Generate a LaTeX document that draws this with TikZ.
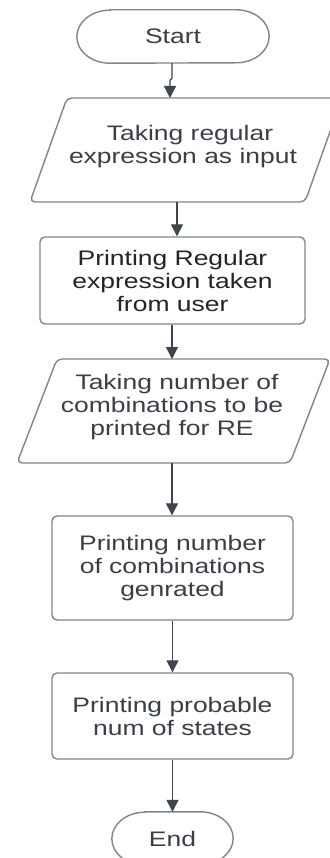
\documentclass[tikz,border=0pt]{standalone}
\usepackage{fontspec}
\setmainfont{Liberation Sans}[FakeStretch=1.26]
\usetikzlibrary{arrows.meta,calc}
\definecolor{txt}{HTML}{3A3F47}
\definecolor{txtdark}{HTML}{222428}
\definecolor{edgec}{HTML}{80858C}
\definecolor{arrc}{HTML}{3F454D}
\begin{document}
\begin{tikzpicture}[x=1pt,y=-1pt,
  lab/.style={text=txt,font=\fontsize{21}{23}\selectfont,align=center,inner sep=0pt},
  edgeline/.style={draw=edgec,line width=1.4pt},
  procbox/.style={lab,edgeline,rounded corners=5pt},
  arr/.style={draw=arrc,line width=1.3pt,-{Triangle[width=12pt,length=12pt]}}]
\fill[white] (0,0) rectangle (329,858);
\useasboundingbox (0,0) rectangle (329,858);

% Start terminator
\node[lab,minimum width=192pt,minimum height=53pt] (start) at (173,36.5) {Start};
\draw[edgeline] ([xshift=33pt]start.north west) -- ([xshift=-33pt]start.north east)
  arc[start angle=90,end angle=-90,x radius=33pt,y radius=26.5pt]
  -- ([xshift=33pt]start.south west)
  arc[start angle=270,end angle=90,x radius=33pt,y radius=26.5pt] -- cycle;

% Input 1
\node[lab] (p1) at (183,147) {\hspace*{14pt}Taking regular\\expression as input};
\draw[edgeline,rounded corners=5pt] ($(p1)+(-153,55)$) -- ($(p1)+(122,55)$)
  -- ($(p1)+(159,-49)$) -- ($(p1)+(-116,-49)$) -- cycle;

% Process 2
\node[procbox,text=txtdark,minimum width=265pt,minimum height=87pt] (b2) at (172.5,280.5)
  {Printing Regular\\expression taken\\from user};

% Input 2
\node[lab] (p2) at (172,407.5) {\hspace*{10pt}Taking number of\\combinations to be\\printed for RE};
\draw[edgeline,rounded corners=5pt] ($(p2)+(-155,55.5)$) -- ($(p2)+(118,55.5)$)
  -- ($(p2)+(158,-48.5)$) -- ($(p2)+(-115,-48.5)$) -- cycle;

% Process 4
\node[procbox,minimum width=241pt,minimum height=104pt] (b4) at (172.5,568)
  {Printing number\\of combinations\\genrated};

% Process 5
\node[procbox,minimum width=241pt,minimum height=86pt] (b5) at (172.5,716)
  {Printing probable\\num of states};

% End terminator
\node[lab,minimum width=121pt,minimum height=53pt] (end) at (172.5,838.5) {End};
\draw[edgeline] ([xshift=33pt]end.north west) -- ([xshift=-33pt]end.north east)
  arc[start angle=90,end angle=-90,x radius=33pt,y radius=26.5pt]
  -- ([xshift=33pt]end.south west)
  arc[start angle=270,end angle=90,x radius=33pt,y radius=26.5pt] -- cycle;

% Connectors
\draw[arr] ([xshift=-1pt]start.south) -- ++(0,15) -- ++(-2,2) -- ($(p1)+(-13,-49)$);
\draw[arr] ($(p1)+(-6,55)$) -- ($(b2.north)+(4.5,0)$);
\draw[arr] (b2.south -| p2) -- ($(p2)+(0,-48.5)$);
\draw[arr] ($(p2)+(0,55.5)$) -- (b4.north -| p2);
\draw[arr] (b4.south) -- (b5.north);
\draw[arr] (b5.south) -- (end.north);
\end{tikzpicture}
\end{document}
